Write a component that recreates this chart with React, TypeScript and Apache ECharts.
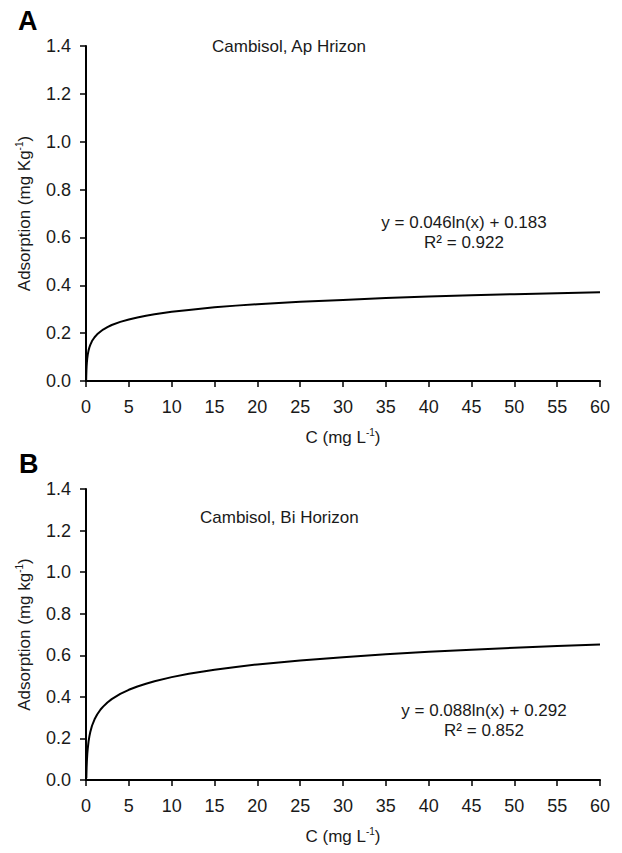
import React, { useEffect, useRef } from "react";
import * as echarts from "echarts";

const xA = [0.02, 0.03, 0.05, 0.07, 0.1, 0.15, 0.2, 0.3, 0.4, 0.5, 0.7, 1, 1.3, 1.7, 2, 2.5, 3, 4, 5, 6, 7, 8, 10, 12, 15, 17.5, 20, 25, 30, 35, 40, 45, 50, 55, 60];
const yA = [0.003, 0.022, 0.045, 0.061, 0.077, 0.096, 0.109, 0.128, 0.141, 0.151, 0.167, 0.183, 0.195, 0.207, 0.215, 0.225, 0.234, 0.247, 0.257, 0.265, 0.273, 0.279, 0.289, 0.297, 0.308, 0.315, 0.321, 0.331, 0.339, 0.347, 0.353, 0.358, 0.363, 0.367, 0.371];
const xB = [0.04, 0.05, 0.07, 0.1, 0.15, 0.2, 0.3, 0.4, 0.5, 0.7, 1, 1.3, 1.7, 2, 2.5, 3, 4, 5, 6, 7, 8, 10, 12, 15, 17.5, 20, 25, 30, 35, 40, 45, 50, 55, 60];
const yB = [0.009, 0.028, 0.058, 0.089, 0.125, 0.15, 0.186, 0.211, 0.231, 0.261, 0.292, 0.315, 0.339, 0.353, 0.373, 0.389, 0.414, 0.434, 0.45, 0.463, 0.475, 0.495, 0.511, 0.53, 0.544, 0.556, 0.575, 0.591, 0.605, 0.617, 0.627, 0.636, 0.645, 0.652];

const panelLetters = ["A", "B"];
const titles = ["Cambisol, Ap Hrizon", "Cambisol, Bi Horizon"];
const equations = ["y = 0.046ln(x) + 0.183", "y = 0.088ln(x) + 0.292"];
const r2 = ["R\u00b2 = 0.922", "R\u00b2 = 0.852"];
const yNames = ["Kg", "kg"];

const FONT = "'Liberation Sans', Arial, sans-serif";
const INK = "#1a1a1a";

export default function App() {
  const ref = useRef<HTMLDivElement>(null);
  useEffect(() => {
    const chart = echarts.init(ref.current!, null, { renderer: "svg" });
    const grids = [
      { left: 86, top: 46, width: 514, height: 335 },
      { left: 86, top: 489, width: 514, height: 291 },
    ];
    const axisLine = { lineStyle: { color: "#000", width: 2 } };
    const axisTick = { inside: false, length: 6, lineStyle: { color: "#000", width: 1.5 } };
    const label = { color: INK, fontFamily: FONT, fontSize: 18 };
    const rich = {
      n: { fontFamily: FONT, fontSize: 17, color: INK, lineHeight: 20 },
      s: { fontFamily: FONT, fontSize: 10, color: INK, verticalAlign: "top", lineHeight: 14 },
    };
    const xAxis = grids.map((_, i) => ({
      type: "value",
      gridIndex: i,
      min: 0,
      max: 60,
      interval: 5,
      splitLine: { show: false },
      axisLine,
      axisTick,
      axisLabel: { ...label, margin: 17 },
      name: "{n|C (mg L}{s|-1}{n|)}",
      nameLocation: "middle",
      nameGap: 46,
      nameTextStyle: { rich },
    }));
    const yAxis = grids.map((_, i) => ({
      type: "value",
      gridIndex: i,
      min: 0,
      max: 1.4,
      interval: 0.2,
      splitLine: { show: false },
      axisLine,
      axisTick,
      axisLabel: { ...label, margin: 15, formatter: (v: number) => v.toFixed(1) },
      name: `{n|Adsorption (mg ${yNames[i]}}{s|-1}{n|)}`,
      nameLocation: "middle",
      nameRotate: 90,
      nameGap: 52,
      nameTextStyle: { rich },
    }));
    const mk = (xs: number[], ys: number[]) => xs.map((x, i) => [x, ys[i]]);
    const series = [mk(xA, yA), mk(xB, yB)].map((d, i) => ({
      type: "line",
      xAxisIndex: i,
      yAxisIndex: i,
      data: d,
      smooth: false,
      showSymbol: false,
      lineStyle: { color: "#000", width: 2 },
    }));
    const textStyle = (size: number, weight = "normal") => ({
      fontFamily: FONT,
      fontSize: size,
      fontWeight: weight,
      fill: INK,
    });
    const graphic: any[] = [
      { type: "text", left: 18, top: 7, style: { text: panelLetters[0], ...textStyle(27, "bold"), fill: "#000" } },
      { type: "text", left: 19, top: 450, style: { text: panelLetters[1], ...textStyle(27, "bold"), fill: "#000" } },
      { type: "text", x: 212, y: 46, style: { text: titles[0], ...textStyle(17), verticalAlign: "middle" } },
      { type: "text", x: 200, y: 517, style: { text: titles[1], ...textStyle(17), verticalAlign: "middle" } },
      { type: "text", x: 464, y: 222, style: { text: equations[0], ...textStyle(17), align: "center", verticalAlign: "middle" } },
      { type: "text", x: 464, y: 242, style: { text: r2[0], ...textStyle(17), align: "center", verticalAlign: "middle" } },
      { type: "text", x: 484, y: 710, style: { text: equations[1], ...textStyle(17), align: "center", verticalAlign: "middle" } },
      { type: "text", x: 484, y: 730, style: { text: r2[1], ...textStyle(17), align: "center", verticalAlign: "middle" } },
    ];
    chart.setOption({
      animation: false,
      backgroundColor: "#fff",
      grid: grids,
      xAxis,
      yAxis,
      series,
      graphic,
    });
    return () => chart.dispose();
  }, []);
  return (
    <div
      ref={ref}
      style={{ position: "fixed", left: 0, top: 0, width: 622, height: 853, background: "#fff" }}
    />
  );
}
